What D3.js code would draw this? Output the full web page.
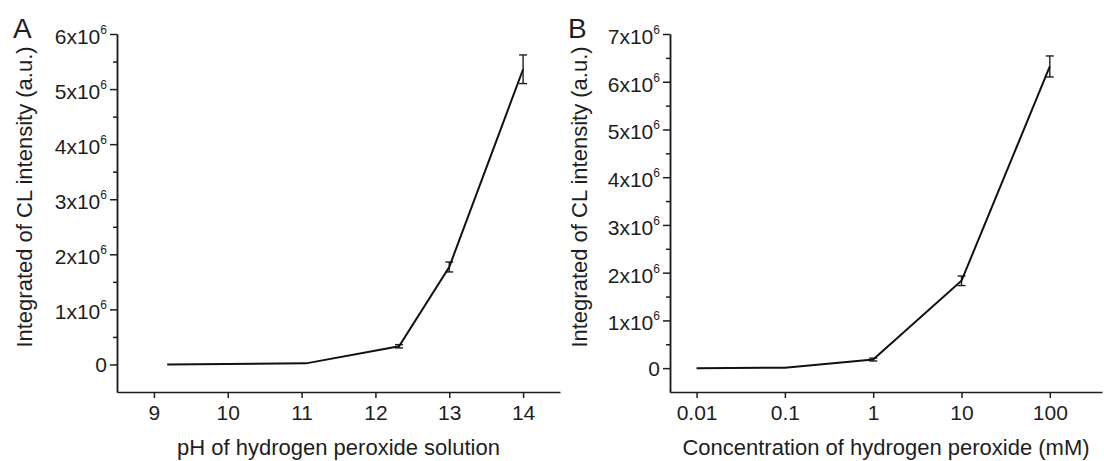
<!DOCTYPE html>
<html>
<head>
<meta charset="utf-8">
<script src="https://cdn.jsdelivr.net/npm/d3@7"></script>
<style>
    body { margin: 0; background: #fff; }
    svg text { font-family: "Liberation Sans", Arial, sans-serif; fill: #1e1e1e; }
    .domain, .tick line { stroke: #1e1e1e; stroke-width: 1.5; }
</style>
</head>
<body>
<svg id="chart" width="1104" height="461"></svg>
<script>
// Panel A - pH of hydrogen peroxide solution
var phValues = [9.18, 11.06, 12.32, 13.0, 14.0];
var phIntensity = [0, 0.02e6, 0.33e6, 1.77e6, 5.36e6];
var phError = [0, 0, 0.03e6, 0.09e6, 0.26e6];
var phTicks = [9, 10, 11, 12, 13, 14];
var phYTicks = [0, 1e6, 2e6, 3e6, 4e6, 5e6, 6e6];

// Panel B - concentration of hydrogen peroxide (mM)
var concValues = [0.01, 0.1, 1, 10, 100];
var concIntensity = [0, 0.01e6, 0.18e6, 1.83e6, 6.32e6];
var concError = [0, 0, 0.03e6, 0.1e6, 0.22e6];
var concTicks = [0.01, 0.1, 1, 10, 100];
var concTickLabels = ["0.01", "0.1", "1", "10", "100"];
var concYTicks = [0, 1e6, 2e6, 3e6, 4e6, 5e6, 6e6, 7e6];

var yTitle = "Integrated of CL intensity (a.u.)";

var svg = d3.select("#chart");

function drawPanel(p) {
    var g = svg.append("g");

    var points = p.xs.map(function (x, i) {
        return { x: x, y: p.ys[i], err: p.errs[i] };
    });

    // x axis
    g.append("g")
        .attr("transform", "translate(0," + p.y.range()[0] + ")")
        .call(d3.axisBottom(p.x)
            .tickValues(p.xTicks)
            .tickFormat(p.xFormat)
            .tickSize(6)
            .tickPadding(7)
            .tickSizeOuter(0))
        .selectAll("text").style("font-size", "21px");

    // y axis minor ticks
    var minor = p.yTicks.map(function (v) { return v + 0.5e6; })
        .filter(function (v) { return v < p.y.domain()[1]; });
    g.append("g")
        .attr("transform", "translate(" + p.x.range()[0] + ",0)")
        .call(d3.axisLeft(p.y).tickValues(minor).tickFormat("").tickSize(4).tickSizeOuter(0));

    // y axis major
    var yAxis = g.append("g")
        .attr("transform", "translate(" + p.x.range()[0] + ",0)")
        .call(d3.axisLeft(p.y).tickValues(p.yTicks).tickSize(7).tickPadding(3).tickSizeOuter(0));

    yAxis.selectAll(".tick text").each(function (d) {
        var t = d3.select(this).text(null).style("font-size", "21px");
        if (d === 0) {
            t.attr("dy", "0.35em").text("0");
        } else {
            t.attr("dy", "0.45em");
            t.append("tspan").text((d / 1e6) + "x10");
            t.append("tspan").attr("dy", -10).style("font-size", "12px").text("6");
        }
    });

    // error bars
    var eb = g.append("g").attr("stroke", "#1e1e1e").attr("stroke-width", 1.4).attr("fill", "none");
    points.filter(function (d) { return d.err > 0; }).forEach(function (d) {
        var cx = p.x(d.x);
        eb.append("line").attr("x1", cx).attr("x2", cx)
            .attr("y1", p.y(d.y - d.err)).attr("y2", p.y(d.y + d.err));
        [d.y - d.err, d.y + d.err].forEach(function (v) {
            eb.append("line").attr("x1", cx - 4).attr("x2", cx + 4)
                .attr("y1", p.y(v)).attr("y2", p.y(v));
        });
    });

    // data line
    g.append("path")
        .datum(points)
        .attr("fill", "none")
        .attr("stroke", "#111")
        .attr("stroke-width", 2)
        .attr("d", d3.line()
            .x(function (d) { return p.x(d.x); })
            .y(function (d) { return p.y(d.y); }));

    // titles
    g.append("text")
        .attr("transform", "translate(" + p.yTitleX + ",197) rotate(-90)")
        .attr("text-anchor", "middle")
        .style("font-size", "22px")
        .text(yTitle);

    g.append("text")
        .attr("x", (p.x.range()[0] + p.x.range()[1]) / 2)
        .attr("y", 455)
        .attr("text-anchor", "middle")
        .style("font-size", "22px")
        .text(p.xTitle);

    g.append("text")
        .attr("x", p.letterX)
        .attr("y", 38)
        .style("font-size", "28px")
        .text(p.letter);
}

drawPanel({
    letter: "A",
    letterX: 13,
    xs: phValues, ys: phIntensity, errs: phError,
    x: d3.scaleLinear().domain([8.5, 14.5]).range([117, 560]),
    y: d3.scaleLinear().domain([-0.5e6, 6e6]).range([392, 34]),
    xTicks: phTicks,
    xFormat: d3.format("d"),
    yTicks: phYTicks,
    yTitleX: 31.5,
    xTitle: "pH of hydrogen peroxide solution"
});

drawPanel({
    letter: "B",
    letterX: 568,
    xs: concValues, ys: concIntensity, errs: concError,
    x: d3.scaleLog().domain([0.005, 390]).range([670, 1102]),
    y: d3.scaleLinear().domain([-0.5e6, 7e6]).range([392, 34]),
    xTicks: concTicks,
    xFormat: function (d, i) { return concTickLabels[i]; },
    yTicks: concYTicks,
    yTitleX: 586.5,
    xTitle: "Concentration of hydrogen peroxide (mM)"
});
</script>
</body>
</html>
